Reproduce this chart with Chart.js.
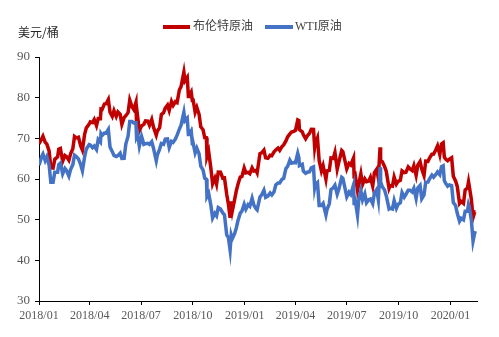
<!DOCTYPE html>
<html>
<head>
<meta charset="utf-8">
<script src="https://cdn.jsdelivr.net/npm/chart.js@4.4.1/dist/chart.umd.min.js"></script>
<style>
  html, body { margin: 0; padding: 0; background: #fff; }
  #wrap { width: 499px; height: 337px; }
</style>
</head>
<body>
<div id="wrap"><canvas id="c" width="499" height="337"></canvas></div>
<script>
// Day offsets along the date axis (0 = 2018/01 tick)
const days = [
  0,5,7,11,14,18,21,25,28,33,35,38,42,46,49,53,56,60,63,66,70,74,77,81,84,89,91,95,98,102,
  105,109,110,112,116,119,123,126,130,133,137,140,144,147,151,154,158,161,165,168,172,173,175,178,182,186,189,193,196,200,
  203,208,210,214,217,221,224,228,231,235,238,242,245,249,252,257,259,263,265,266,270,272,273,277,280,284,287,291,294,297,
  298,301,305,308,312,315,318,322,326,329,333,336,339,341,343,347,350,353,357,360,364,367,371,374,378,381,385,387,392,395,
  399,402,406,410,413,417,420,424,427,431,434,438,441,445,448,452,455,459,461,462,467,469,473,476,480,483,487,489,490,494,
  497,501,504,509,511,515,518,522,525,529,532,537,539,543,546,550,553,558,559,560,565,567,571,574,578,581,585,588,592,595,
  599,602,605,606,609,613,616,621,623,627,630,634,637,641,644,648,651,655,658,662,665,669,672,676,679,683,686,690,693,697,
  700,704,707,711,714,717,719,721,725,728,732,735,739,742,746,749,753,756,760,762,763,767,770,773,774
];

// Brent crude, USD per barrel
const brent = [
  68.61,69.96,70.52,69.02,68.58,66.86,62.79,62.72,64.84,65.42,67.31,67.50,64.37,65.79,65.49,64.64,66.21,67.42,70.45,70.12,70.27,68.12,67.11,71.04,72.58,73.48,74.06,73.86,74.64,73.13,
  74.87,74.85,77.21,77.12,78.43,78.51,79.57,76.44,75.39,76.79,75.38,76.46,75.88,73.44,75.08,75.55,76.31,79.44,77.76,77.11,78.86,73.40,75.33,71.84,73.07,73.44,74.29,74.25,73.21,74.65,
  72.81,70.76,71.83,72.63,75.82,76.31,77.42,78.17,76.83,79.06,78.09,79.03,78.80,81.87,82.72,86.29,84.16,85.00,80.26,80.43,81.41,79.29,79.78,76.44,77.62,75.91,72.83,72.13,70.18,70.12,
  65.47,66.76,62.53,58.80,60.21,58.71,61.69,61.67,60.20,60.28,56.26,53.82,50.47,54.47,52.20,54.91,57.06,58.72,60.48,60.64,62.70,61.50,61.64,61.32,62.75,61.98,62.10,61.51,66.25,66.45,
  67.12,65.21,65.07,65.86,65.74,66.67,67.16,67.61,67.03,67.97,68.39,69.37,70.34,71.10,71.55,71.72,71.97,74.51,74.35,72.15,71.62,70.85,69.88,70.62,71.24,72.21,72.18,67.76,68.69,70.11,
  64.49,61.97,63.29,59.97,62.01,62.14,65.20,65.05,66.55,62.40,64.23,67.01,66.72,64.35,62.47,63.83,63.46,65.17,60.50,61.89,57.20,58.53,61.30,58.64,60.03,59.34,59.51,60.43,58.26,61.54,
  62.38,60.22,67.80,64.55,64.28,63.10,61.91,57.69,58.37,58.24,60.51,58.74,59.42,59.70,62.02,61.59,61.69,62.96,62.51,62.06,63.30,60.91,63.39,64.27,62.43,60.82,64.39,64.34,65.22,66.10,
  66.14,67.20,68.16,66.00,68.60,68.91,65.44,64.98,64.49,64.85,65.20,60.69,59.51,58.16,53.96,54.47,54.01,57.32,57.75,59.31,58.50,54.95,50.52,51.90,51.86
];

// WTI crude, USD per barrel
const wti = [
  63.37,65.61,66.14,64.50,65.45,63.39,59.20,59.19,61.68,61.68,63.55,63.91,61.25,62.60,62.04,60.71,62.34,63.54,65.88,65.55,64.94,63.51,62.06,65.51,67.39,68.47,68.38,67.70,68.10,67.25,
  69.72,69.06,71.14,70.70,71.31,71.28,72.20,67.88,66.73,65.81,65.52,65.74,66.36,65.06,65.07,68.58,70.53,74.15,74.14,73.80,73.85,70.38,71.01,68.06,70.46,68.52,68.69,68.76,68.49,69.17,
  67.63,64.46,65.91,67.35,68.72,68.53,69.80,69.87,67.75,69.25,68.99,69.85,70.78,72.28,73.25,76.41,74.34,74.96,70.97,71.34,71.92,68.65,69.12,66.43,67.59,66.18,63.14,62.21,60.19,59.93,
  55.69,56.46,53.43,50.42,51.56,50.93,52.95,52.61,51.65,51.20,46.24,45.59,42.53,46.22,45.33,46.54,47.96,49.78,51.59,52.11,53.80,52.57,53.69,53.31,55.26,53.66,52.72,52.41,55.59,56.09,
  57.26,55.50,55.80,56.56,56.07,56.87,58.52,59.03,59.04,59.94,60.14,62.58,63.08,64.61,63.89,64.05,64.00,66.30,65.21,63.30,63.60,61.94,61.40,61.66,61.78,62.76,62.99,57.91,58.63,59.14,
  53.50,53.48,53.99,51.14,52.51,53.90,57.43,57.83,58.47,56.25,57.51,60.43,60.21,57.62,55.63,56.77,56.20,58.58,53.95,55.66,51.09,54.50,57.10,54.87,56.34,54.17,54.93,55.10,53.94,56.52,
  57.40,54.85,62.90,59.34,58.09,57.29,55.91,52.64,52.81,52.63,54.70,52.81,53.78,54.16,56.66,55.54,56.20,57.23,57.24,56.80,57.72,55.21,57.77,58.41,55.17,56.10,59.20,59.24,60.07,60.94,
  60.44,61.11,61.72,61.06,63.05,63.27,59.61,59.04,58.23,58.54,58.38,54.19,53.48,51.56,49.61,50.32,49.94,52.05,52.05,53.78,53.38,49.90,44.76,46.75,47.18
];

// Date axis ticks
const tickDays = [0, 90, 181, 273, 365, 455, 546, 638, 730];
const tickLabels = ['2018/01', '2018/04', '2018/07', '2018/10', '2019/01', '2019/04', '2019/07', '2019/10', '2020/01'];

const seriesNames = ['布伦特原油', 'WTI原油'];
const seriesColors = ['#C00000', '#4472C4'];
const unitLabel = '美元/桶';

const serif = '"Liberation Serif", "Times New Roman", serif';
const cjk = '"Noto Sans CJK SC", sans-serif';
const mixed = '"Liberation Serif", "Noto Sans CJK SC", serif';

// Unit caption and a line-sample legend across the top
const headerPlugin = {
  id: 'header',
  afterDraw(chart) {
    const ctx = chart.ctx;
    ctx.save();
    ctx.textBaseline = 'middle';
    ctx.textAlign = 'left';
    ctx.fillStyle = '#262626';
    ctx.font = '12px ' + cjk;
    ctx.fillText(unitLabel, 18, 32);

    const items = [
      { x: 163, w: 27, tx: 193 },
      { x: 265, w: 28, tx: 295 }
    ];
    items.forEach((it, i) => {
      ctx.strokeStyle = seriesColors[i];
      ctx.lineWidth = 4;
      ctx.beginPath();
      ctx.moveTo(it.x, 27);
      ctx.lineTo(it.x + it.w, 27);
      ctx.stroke();
      ctx.fillStyle = '#404040';
      ctx.font = '12px ' + mixed;
      ctx.fillText(seriesNames[i], it.tx, 27);
    });
    ctx.restore();
  }
};

const toPoints = vals => days.map((d, i) => ({ x: d, y: vals[i] }));

new Chart(document.getElementById('c'), {
  type: 'line',
  data: {
    datasets: [
      {
        label: seriesNames[0],
        data: toPoints(brent),
        borderColor: seriesColors[0],
        borderWidth: 3.5,
        pointRadius: 0,
        tension: 0,
        fill: false,
        order: 1
      },
      {
        label: seriesNames[1],
        data: toPoints(wti),
        borderColor: seriesColors[1],
        borderWidth: 3.5,
        pointRadius: 0,
        tension: 0,
        fill: false,
        order: 0
      }
    ]
  },
  options: {
    responsive: false,
    animation: false,
    devicePixelRatio: 1,
    layout: { padding: { top: 57, right: 22, bottom: 0, left: 0 } },
    plugins: {
      legend: { display: false },
      tooltip: { enabled: false }
    },
    scales: {
      x: {
        type: 'linear',
        min: 0,
        max: 777,
        afterBuildTicks: s => { s.ticks = tickDays.map(v => ({ value: v })); },
        afterFit: s => { s.height = 36; },
        ticks: {
          autoSkip: false,
          maxRotation: 0,
          padding: 4,
          color: '#595959',
          font: { family: serif, size: 12 },
          callback: v => tickLabels[tickDays.indexOf(v)]
        },
        grid: { drawOnChartArea: false, drawTicks: true, tickLength: 4, color: '#000' },
        border: { display: true, color: '#000', width: 1 }
      },
      y: {
        min: 30,
        max: 90,
        afterFit: s => { s.width = 39; },
        ticks: {
          stepSize: 10,
          padding: 5,
          color: '#595959',
          font: { family: serif, size: 13 }
        },
        grid: { drawOnChartArea: false, drawTicks: true, tickLength: 4, color: '#000' },
        border: { display: true, color: '#000', width: 1 }
      }
    }
  },
  plugins: [headerPlugin]
});
</script>
</body>
</html>
